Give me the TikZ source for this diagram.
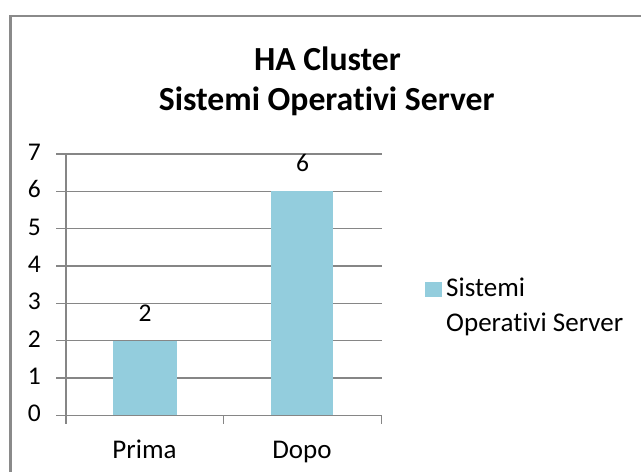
\documentclass[tikz,border=0pt]{standalone}
\usepackage{fontspec}
\setmainfont{Carlito}[RawFeature={-liga;-calt;-dlig;-clig}]
\definecolor{bargray}{RGB}{134,134,134}
\definecolor{framegray}{RGB}{138,138,138}
\definecolor{barblue}{RGB}{147,205,221}
\tikzset{
  gridline/.style={draw=bargray, line width=1.3pt},
  frameline/.style={draw=framegray, line width=2.8pt},
  ylab/.style={anchor=base east, inner sep=0pt, font=\fontsize{25.5}{30}\selectfont},
  catlab/.style={anchor=base, inner sep=0pt, font=\fontsize{27}{30}\selectfont},
  datalab/.style={anchor=base, inner sep=0pt, font=\fontsize{25.5}{30}\selectfont},
  leglab/.style={anchor=base west, inner sep=0pt, font=\fontsize{27}{30}\selectfont},
  titlelab/.style={anchor=base, inner sep=0pt, font=\bfseries\fontsize{33.7}{40}\selectfont},
  barfill/.style={fill=barblue}
}
\begin{document}
\begin{tikzpicture}[x=1pt,y=-1pt]
\useasboundingbox (0,0) rectangle (641,472);
\fill[white] (0,0) rectangle (641,472);
% frame
\draw[frameline] (10.5,472) -- (10.5,16) -- (641,16);
% title
\node[titlelab] (t1) at (327.5,70) {HA Cluster};
\node[titlelab] (t2) at (326.7,110) {Sistemi Operativi Server};
% gridlines and y labels
\foreach \v in {0,...,7}{
  \pgfmathsetmacro{\yy}{415.3-37.33*\v}
  \draw[gridline] (56,\yy) -- (381.7,\yy);
  \node[ylab] (y\v) at (41,\yy+6.4) {\v};
}
% axes
\draw[gridline] (66,154.3) -- (66,424);
\draw[gridline] (223.8,415.3) -- (223.8,424);
\draw[gridline] (381.7,415.3) -- (381.7,424);
% bars
\fill[barfill] (113.3,341) rectangle (176.7,415.3);
\fill[barfill] (271,191) rectangle (332.7,415.3);
% data labels
\node[datalab] (d1) at (145,321.7) {2};
\node[datalab] (d2) at (302.5,171.7) {6};
% category labels
\node[catlab] (c1) at (144.5,458.3) {Prima};
\node[catlab] (c2) at (302,458.3) {Dopo};
% legend
\fill[barfill] (425,281.7) rectangle (441.7,296.7);
\node[leglab] (l1) at (446,296.7) {Sistemi};
\node[leglab] (l2) at (446,331) {Operativi Server};
\end{tikzpicture}
\end{document}
